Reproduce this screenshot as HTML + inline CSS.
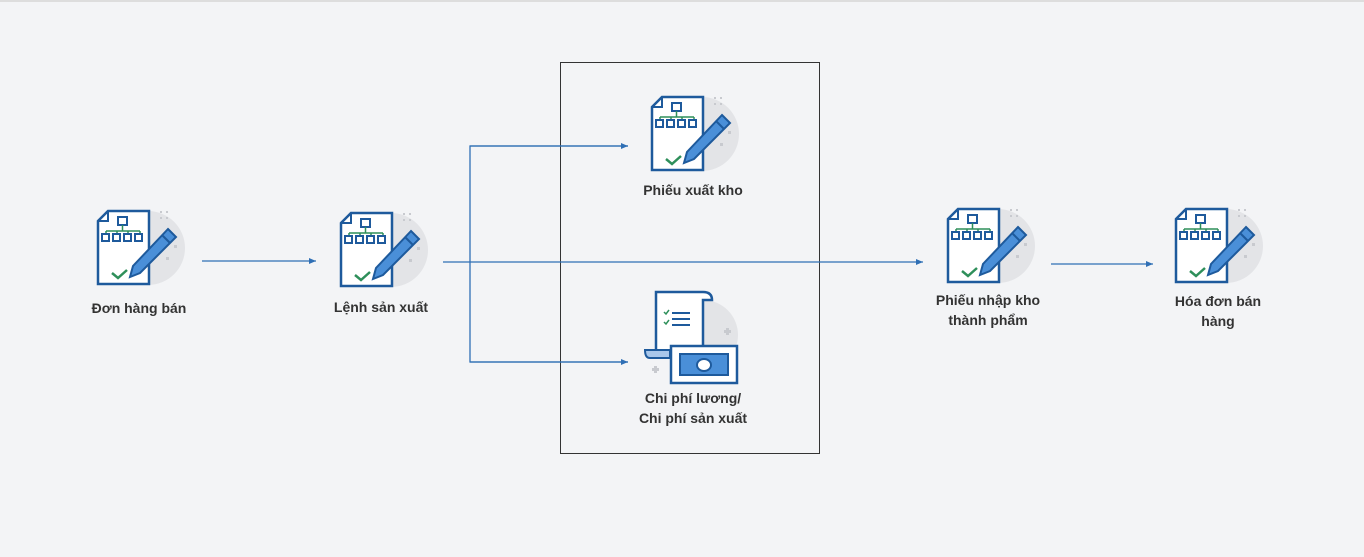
<!DOCTYPE html>
<html><head><meta charset="utf-8"><style>
html,body{margin:0;padding:0;background:#f3f4f6;}
body{width:1364px;height:557px;overflow:hidden;position:relative;font-family:"Liberation Sans",sans-serif;}
.t{position:absolute;font-weight:bold;font-size:14px;color:#333;text-align:center;line-height:20px;width:200px;margin-left:-100px;}
</style></head><body>
<svg width="1364" height="557" style="position:absolute;left:0;top:0">
<defs>
<marker id="a" markerWidth="8" markerHeight="8" refX="7" refY="4" orient="auto" markerUnits="userSpaceOnUse"><path d="M0,1 L7,4 L0,7 Z" fill="#2f6fb5"/></marker>
<g id="doc">
<circle cx="50" cy="37" r="37" fill="#e3e4e7"/>
<path d="M10,0 H51 V73 H0 V10 Z" fill="#fff" stroke="#1e5a9c" stroke-width="2.5"/>
<path d="M0,10 H10 V0" fill="none" stroke="#1e5a9c" stroke-width="2"/>
<rect x="20" y="6" width="9" height="8" fill="none" stroke="#1e5a9c" stroke-width="2"/>
<path d="M24.5,14 V20 M8,20 H42 M8,20 V23 M19,20 V23 M30,20 V23 M42,20 V23" stroke="#2e8f5a" stroke-width="1.5" fill="none"/>
<rect x="4" y="23" width="7" height="7" fill="none" stroke="#1e5a9c" stroke-width="2"/>
<rect x="15" y="23" width="7" height="7" fill="none" stroke="#1e5a9c" stroke-width="2"/>
<rect x="26" y="23" width="7" height="7" fill="none" stroke="#1e5a9c" stroke-width="2"/>
<rect x="37" y="23" width="7" height="7" fill="none" stroke="#1e5a9c" stroke-width="2"/>
<path d="M14,62 L20,67 L29,59" fill="none" stroke="#2e8f5a" stroke-width="2.5"/>
<path d="M70,18 L78,26 L42,62 L32,66 L35,55 Z" fill="#4a8fd8" stroke="#1e5a9c" stroke-width="2"/>
<path d="M64,24 L72,32" stroke="#1e5a9c" stroke-width="2"/>
<g fill="#c8cacf"><rect x="62" y="0" width="2" height="2"/><rect x="68" y="0" width="2" height="2"/><rect x="62" y="6" width="2" height="2"/><rect x="68" y="6" width="2" height="2"/><rect x="76" y="34" width="3" height="3"/><rect x="68" y="46" width="3" height="3"/></g>
</g>
</defs>
<line x1="0" y1="1" x2="1364" y2="1" stroke="#ddd" stroke-width="2"/>
<rect x="560.5" y="62.5" width="259" height="391" fill="none" stroke="#333" stroke-width="1"/>
<g stroke="#2f6fb5" stroke-width="1.3" fill="none">
<line x1="202" y1="261" x2="316" y2="261" marker-end="url(#a)"/>
<line x1="443" y1="262" x2="923" y2="262" marker-end="url(#a)"/>
<path d="M628,146 H470 V362 H628"/>
<line x1="470" y1="146" x2="628" y2="146" marker-end="url(#a)"/>
<line x1="470" y1="362" x2="628" y2="362" marker-end="url(#a)"/>
<line x1="1051" y1="264" x2="1153" y2="264" marker-end="url(#a)"/>
</g>
<use href="#doc" x="98" y="211"/>
<use href="#doc" x="341" y="213"/>
<use href="#doc" x="652" y="97"/>
<use href="#doc" x="948" y="209"/>
<use href="#doc" x="1176" y="209"/>
<g>
<circle cx="703" cy="335" r="35" fill="#e3e4e7"/>
<path d="M656,292 H703 Q712,292 712,300 H703 V355 H656 Z" fill="#fff" stroke="#1e5a9c" stroke-width="2.5"/>
<path d="M645,350 H670 V358 H650 Q645,358 645,350 Z" fill="#a9c7ea" stroke="#1e5a9c" stroke-width="2"/>
<path d="M664,312 l2,2 l3,-4 M664,322 l2,2 l3,-4" stroke="#2e8f5a" stroke-width="1.5" fill="none"/>
<path d="M672,313 H690 M672,319 H690 M672,325 H690" stroke="#1e5a9c" stroke-width="2"/>
<rect x="671" y="346" width="66" height="37" fill="#fff" stroke="#1e5a9c" stroke-width="2.5"/>
<path d="M680,354 H728 V375 H680 Z" fill="#4a8fd8" stroke="#1e5a9c" stroke-width="2"/>
<ellipse cx="704" cy="365" rx="7" ry="6" fill="#fff" stroke="#1e5a9c" stroke-width="2"/>
<g fill="#c8cacf"><rect x="726" y="328" width="3" height="7"/><rect x="724" y="330" width="7" height="3"/><rect x="654" y="366" width="3" height="7"/><rect x="652" y="368" width="7" height="3"/></g>
</g>
</svg>
<div class="t" style="left:139px;top:298px">Đơn hàng bán</div>
<div class="t" style="left:381px;top:297px">Lệnh sản xuất</div>
<div class="t" style="left:693px;top:180px">Phiếu xuất kho</div>
<div class="t" style="left:693px;top:388px">Chi phí lương/<br>Chi phí sản xuất</div>
<div class="t" style="left:988px;top:290px">Phiếu nhập kho<br>thành phẩm</div>
<div class="t" style="left:1218px;top:291px">Hóa đơn bán<br>hàng</div>
</body></html>
